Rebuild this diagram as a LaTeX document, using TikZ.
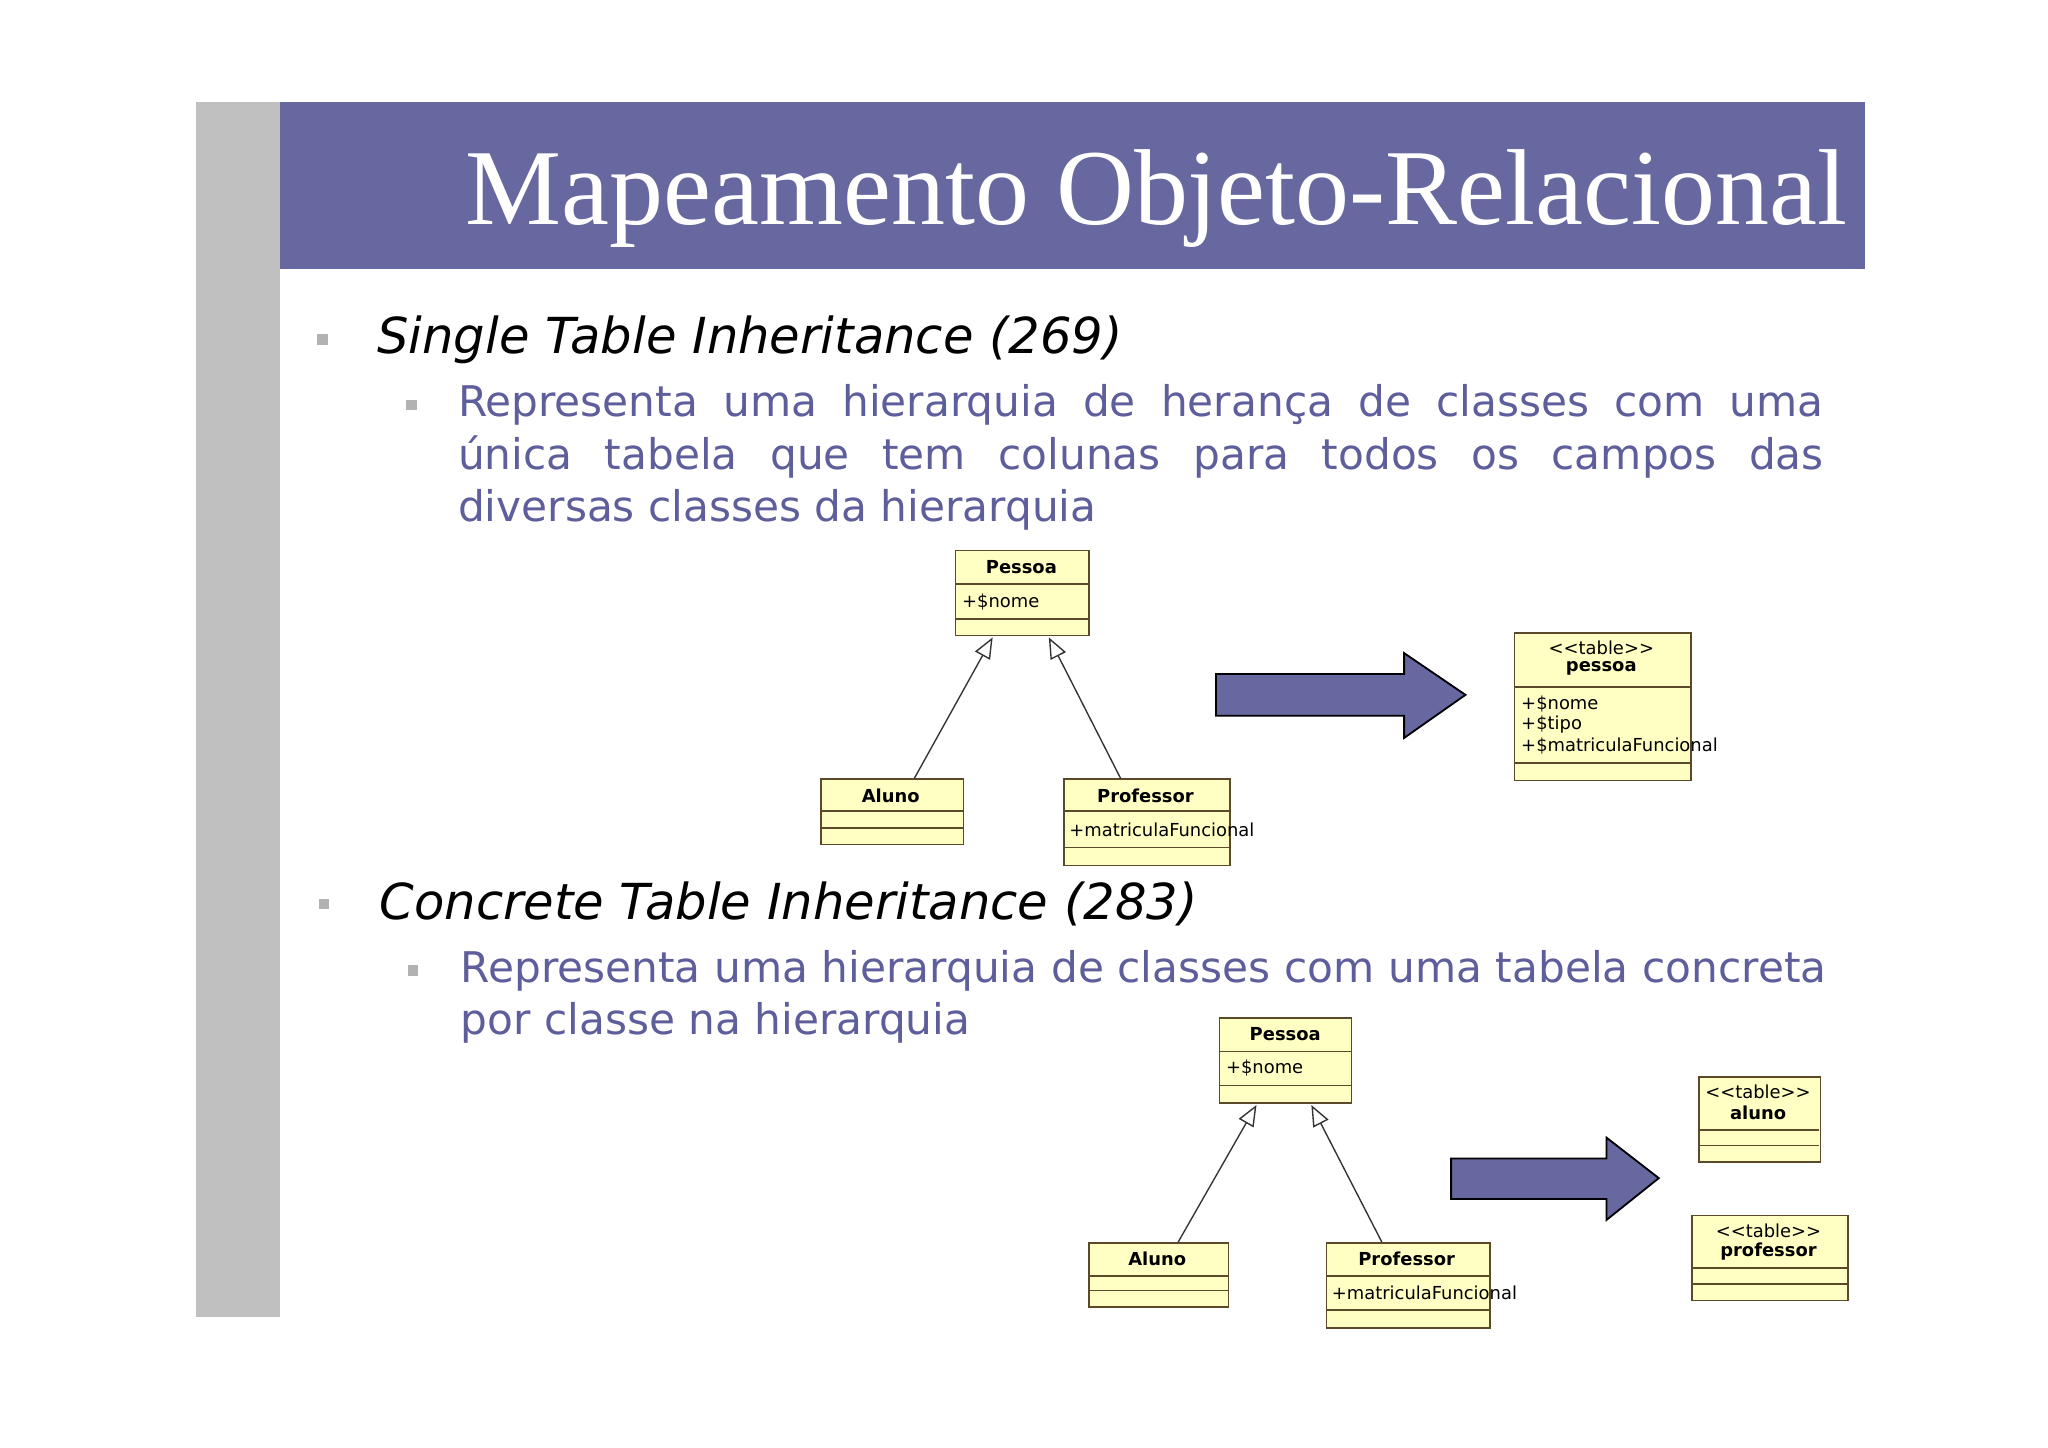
\documentclass[tikz,border=0pt]{standalone}
\usepackage{fontspec}
\setmainfont{DejaVu Sans}
\newfontfamily\titlefont{Liberation Serif}
\usetikzlibrary{arrows.meta}
\definecolor{barblue}{HTML}{6868A0}
\definecolor{txtblue}{HTML}{5E5E9C}
\definecolor{umlfill}{HTML}{FFFFC4}
\definecolor{umlline}{HTML}{5A4A2A}
\definecolor{graybar}{HTML}{C0C0C0}
\tikzset{
 umlbox/.style={draw=umlline,fill=umlfill,line width=0.35pt,anchor=north west,inner sep=0pt},
 sep/.style={draw=umlline,line width=0.35pt},
 umlt/.style={font=\fontsize{3.9}{4.5}\selectfont,inner sep=0pt},
 umlh/.style={font=\fontsize{3.9}{4.5}\selectfont\bfseries,inner sep=0pt},
 inh/.style={draw=black!80,line width=0.3pt,-{Triangle[open,length=1.6mm,width=1.3mm,fill=white]}},
 bigarrow/.style={draw=black,fill=barblue,line width=0.4pt},
 sq/.style={fill=gray!60,minimum size=0.08cm,inner sep=0pt},
 head/.style={font=\fontsize{10.8}{12}\selectfont\itshape,anchor=west,inner sep=0pt},
 body/.style={font=\fontsize{9.2}{11}\selectfont,text=txtblue,anchor=west,inner sep=0pt}
}
\begin{document}
\begin{tikzpicture}[x=0.01cm,y=-0.01cm]
\useasboundingbox (0,0) rectangle (1568,1108);
\fill[white] (0,0) rectangle (1568,1108);
\fill[graybar] (150,78) rectangle (214,1008);
\fill[barblue] (214,78) rectangle (1428,206);
\node[anchor=base east,text=white,inner sep=0pt,font=\titlefont\fontsize{23.5}{26}\selectfont] (title) at (1415,172) {Mapeamento Objeto-Relacional};
% bullet 1
\node[sq] (b1) at (247,260) {};
\node[head] (h1) at (288,260) {Single Table Inheritance (269)};
\node[sq] (s1) at (315,310) {};
\node[body] (l1) at (350,310) {\makebox[10.45cm][s]{Representa uma hierarquia de herança de classes com uma}};
\node[body] (l2) at (350,350) {\makebox[10.45cm][s]{única tabela que tem colunas para todos os campos das}};
\node[body] (l3) at (350,390) {diversas classes da hierarquia};
% UML 1
\node[umlbox,minimum width=1.02cm,minimum height=0.65cm] (p1) at (731,421) {};
\draw[sep] (731,447)--(833,447) (731,474)--(833,474);
\node[umlh] at (782,434) {Pessoa};
\node[umlt,anchor=west] at (736,461) {+\$nome};
\node[umlbox,minimum width=1.09cm,minimum height=0.50cm] (a1) at (628,596) {};
\draw[sep] (628,621)--(737,621) (628,634)--(737,634);
\node[umlh] at (682,609) {Aluno};
\node[umlbox,minimum width=1.27cm,minimum height=0.66cm] (r1) at (814,596) {};
\draw[sep] (814,621)--(941,621) (814,649)--(941,649);
\node[umlh] at (877,609) {Professor};
\node[umlt,anchor=west] at (818,635) {+matriculaFuncional};
\coordinate (a1t) at (700,596); \coordinate (p1l) at (760,488);
\coordinate (r1t) at (858,596); \coordinate (p1r) at (803,488);
\draw[inh] (a1t)--(p1l);
\draw[inh] (r1t)--(p1r);
\draw[bigarrow] (931,516)--(1075,516)--(1075,500)--(1122,532)--(1075,565)--(1075,548)--(931,548)--cycle;
\node[umlbox,minimum width=1.35cm,minimum height=1.13cm] (t1) at (1159,484) {};
\draw[sep] (1159,526)--(1294,526) (1159,584)--(1294,584);
\node[umlt] at (1226,496) {<{}<table>{}>};
\node[umlh] at (1226,512) {pessoa};
\node[umlt,anchor=west] at (1164,539) {+\$nome};
\node[umlt,anchor=west] at (1164,555) {+\$tipo};
\node[umlt,anchor=west] at (1164,571) {+\$matriculaFuncional};
% bullet 2
\node[sq] (b2) at (248,692) {};
\node[head] (h2) at (290,692) {Concrete Table Inheritance (283)};
\node[sq] (s2) at (316,743) {};
\node[body] (m1) at (352,743) {\makebox[10.45cm][s]{Representa uma hierarquia de classes com uma tabela concreta}};
\node[body] (m2) at (352,783) {por classe na hierarquia};
% UML 2
\node[umlbox,minimum width=1.01cm,minimum height=0.65cm] (p2) at (933,779) {};
\draw[sep] (933,805)--(1034,805) (933,831)--(1034,831);
\node[umlh] at (984,792) {Pessoa};
\node[umlt,anchor=west] at (938,818) {+\$nome};
\node[umlbox,minimum width=1.07cm,minimum height=0.49cm] (a2) at (833,951) {};
\draw[sep] (833,977)--(940,977) (833,988)--(940,988);
\node[umlh] at (886,964) {Aluno};
\node[umlbox,minimum width=1.25cm,minimum height=0.65cm] (r2) at (1015,951) {};
\draw[sep] (1015,977)--(1140,977) (1015,1003)--(1140,1003);
\node[umlh] at (1077,964) {Professor};
\node[umlt,anchor=west] at (1019,990) {+matriculaFuncional};
\coordinate (a2t) at (902,951); \coordinate (p2l) at (962,846);
\coordinate (r2t) at (1058,951); \coordinate (p2r) at (1004,846);
\draw[inh] (a2t)--(p2l);
\draw[inh] (r2t)--(p2r);
\draw[bigarrow] (1111,887)--(1230,887)--(1230,871)--(1270,902)--(1230,934)--(1230,918)--(1111,918)--cycle;
\node[umlbox,minimum width=0.93cm,minimum height=0.65cm] (t2) at (1300,824) {};
\draw[sep] (1300,865)--(1393,865) (1300,877)--(1393,877);
\node[umlt] at (1346,836) {<{}<table>{}>};
\node[umlh] at (1346,852) {aluno};
\node[umlbox,minimum width=1.19cm,minimum height=0.65cm] (t3) at (1295,930) {};
\draw[sep] (1295,971)--(1414,971) (1295,983)--(1414,983);
\node[umlt] at (1354,942) {<{}<table>{}>};
\node[umlh] at (1354,958) {professor};
\end{tikzpicture}
\end{document}
